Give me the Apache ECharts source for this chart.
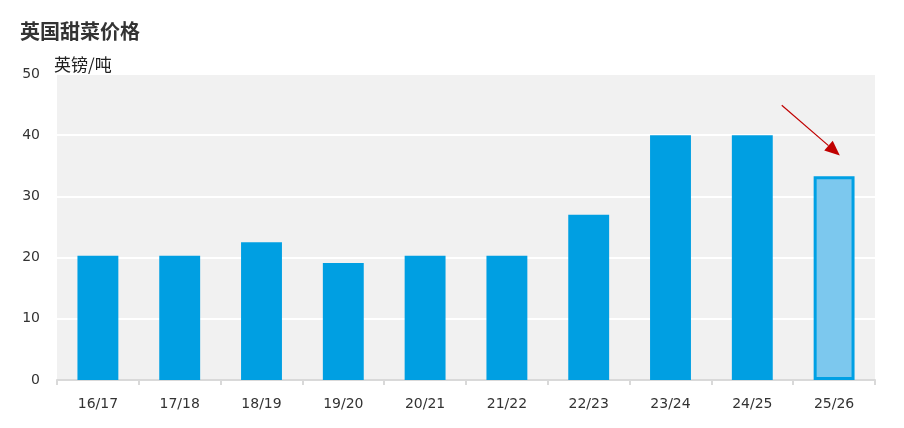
<!DOCTYPE html>
<html><head><meta charset="utf-8">
<script src="https://cdn.jsdelivr.net/npm/echarts@6/dist/echarts.min.js"></script>
<style>html,body{margin:0;padding:0;background:#fff}#c{width:904px;height:428px}</style>
</head><body><div id="c"></div>
<script>
const categories = ['16/17','17/18','18/19','19/20','20/21','21/22','22/23','23/24','24/25','25/26'];
const prices = [20.3, 20.3, 22.5, 19.1, 20.3, 20.3, 27.0, 40.0, 40.0, 33.3];
const yTicks = [0, 10, 20, 30, 40, 50];
const forecastIndex = 9;
const arrowFrom = [8.36, 44.9];
const arrowTo = [9.07, 36.7];

const fontNum = "'DejaVu Sans', 'Noto Sans CJK SC', sans-serif";
const fontCJK = "'Noto Sans CJK SC', sans-serif";

const chart = echarts.init(document.getElementById('c'));
chart.setOption({
  animation: false,
  title: { text: '英国甜菜价格', left: 15, top: 16, textStyle: { fontFamily: fontCJK, fontSize: 20, fontWeight: 'bold', color: '#333' } },
  grid: { left: 57, right: 29, top: 74, bottom: 48, show: true, backgroundColor: '#f1f1f1', borderWidth: 0 },
  xAxis: {
    type: 'category', data: categories,
    axisLine: { lineStyle: { color: '#d9d9d9', width: 2 } },
    axisTick: { show: true, length: 5, lineStyle: { color: '#d9d9d9', width: 2 } },
    axisLabel: { color: '#333', fontFamily: fontNum, fontSize: 14, margin: 17 }
  },
  yAxis: {
    type: 'value', min: yTicks[0], max: yTicks[yTicks.length-1], interval: 10,
    name: '英镑/吨', nameLocation: 'end', nameGap: 1,
    nameTextStyle: { fontFamily: fontCJK, fontSize: 17, color: '#222', align: 'left', padding: [0,0,0,-3] },
    axisLine: { show: false }, axisTick: { show: false },
    axisLabel: { color: '#333', fontFamily: fontNum, fontSize: 14, margin: 17 },
    splitLine: { lineStyle: { color: '#ffffff', width: 2 } }
  },
  series: [{
    type: 'bar', barWidth: '50%',
    data: prices.map((v, i) => i === forecastIndex
      ? { value: v, itemStyle: { color: '#7cc8ee', borderColor: '#00a0e4', borderWidth: 3 } }
      : { value: v, itemStyle: { color: '#009fe2' } })
  }]
});

function drawArrow() {
  const toPx = (p) => {
    const i0 = Math.min(Math.floor(p[0]), categories.length - 2), f = p[0] - i0;
    const a = chart.convertToPixel({ gridIndex: 0 }, [categories[i0], p[1]]);
    const b = chart.convertToPixel({ gridIndex: 0 }, [categories[i0+1], p[1]]);
    return [a[0] + f * (b[0]-a[0]), a[1]];
  };
  const s = toPx(arrowFrom), e = toPx(arrowTo);
  const ang = Math.atan2(e[1]-s[1], e[0]-s[0]);
  const L = 15, W = 6.5;
  const bx = e[0] - L*Math.cos(ang), by = e[1] - L*Math.sin(ang);
  const px = -Math.sin(ang)*W, py = Math.cos(ang)*W;
  chart.setOption({ graphic: [
    { type: 'line', shape: { x1: s[0], y1: s[1], x2: bx, y2: by }, style: { stroke: '#c00000', lineWidth: 1.2 } },
    { type: 'polygon', shape: { points: [[e[0], e[1]], [bx+px, by+py], [bx-px, by-py]] }, style: { fill: '#c00000' } }
  ]});
}
drawArrow();
</script></body></html>
